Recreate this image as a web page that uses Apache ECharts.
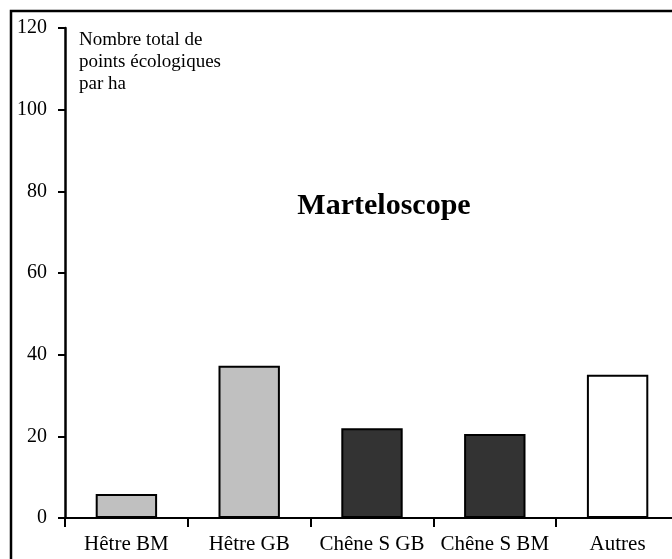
<!DOCTYPE html>
<html>
<head>
<meta charset="utf-8">
<script src="https://cdn.jsdelivr.net/npm/echarts@6/dist/echarts.min.js"></script>
<style>
  html, body { margin: 0; padding: 0; background: #fff; }
  #chart { width: 672px; height: 559px; }
</style>
</head>
<body>
<div id="chart"></div>
<script>
// categories and values
var categories = ['Hêtre BM', 'Hêtre GB', 'Chêne S GB', 'Chêne S BM', 'Autres']
var values = [5.9, 37.3, 22, 20.6, 35.1]
var barColors = ['#c0c0c0', '#c0c0c0', '#333333', '#333333', '#ffffff']
var yTicks = [0, 20, 40, 60, 80, 100, 120]

var serif = '"Liberation Serif", "DejaVu Serif", serif'

var myChart = echarts.init(document.getElementById('chart'))

var option = {
  animation: false,
  backgroundColor: '#fff',
  title: {
    text: 'Marteloscope',
    left: 379,
    top: 186,
    textAlign: 'center',
    textStyle: {
      fontFamily: serif,
      fontSize: 30,
      fontWeight: 'bold',
      color: '#000'
    }
  },
  graphic: [
    // cadre du haut et de gauche
    {
      type: 'rect',
      shape: { x: 11, y: 11, width: 800, height: 800 },
      style: { fill: 'none', stroke: '#000', lineWidth: 2.5 },
      silent: true
    },
    {
      type: 'text',
      left: 79,
      top: 29,
      style: {
        text: 'Nombre total de\npoints écologiques\npar ha',
        font: '19px ' + serif,
        lineHeight: 22,
        fill: '#000'
      }
    }
  ],
  grid: {
    left: 65,
    width: 614, // le graphe dépasse à droite
    top: 28,
    bottom: 41,
    outerBoundsMode: 'none',
    containLabel: false
  },
  xAxis: {
    type: 'category',
    data: categories,
    axisLine: { lineStyle: { color: '#000', width: 2 } },
    axisTick: { show: true, length: 9, alignWithLabel: false, lineStyle: { color: '#000', width: 2 } },
    axisLabel: {
      margin: 16,
      fontFamily: serif,
      fontSize: 21,
      color: '#000',
      interval: 0
    },
    splitLine: { show: false }
  },
  yAxis: {
    type: 'value',
    min: yTicks[0],
    max: yTicks[yTicks.length - 1],
    interval: 20,
    axisLine: { show: true, lineStyle: { color: '#000', width: 2.5 } },
    axisTick: { show: true, length: 7, lineStyle: { color: '#000', width: 2 } },
    axisLabel: {
      margin: 18,
      fontFamily: serif,
      fontSize: 20,
      color: '#000'
    },
    splitLine: { show: false }
  },
  series: [
    {
      type: 'bar',
      barWidth: '50%',
      data: values.map(function (v, i) {
        return {
          value: v,
          itemStyle: { color: barColors[i], borderColor: '#000', borderWidth: 2 }
        }
      })
    }
  ]
}

myChart.setOption(option)
</script>
</body>
</html>
